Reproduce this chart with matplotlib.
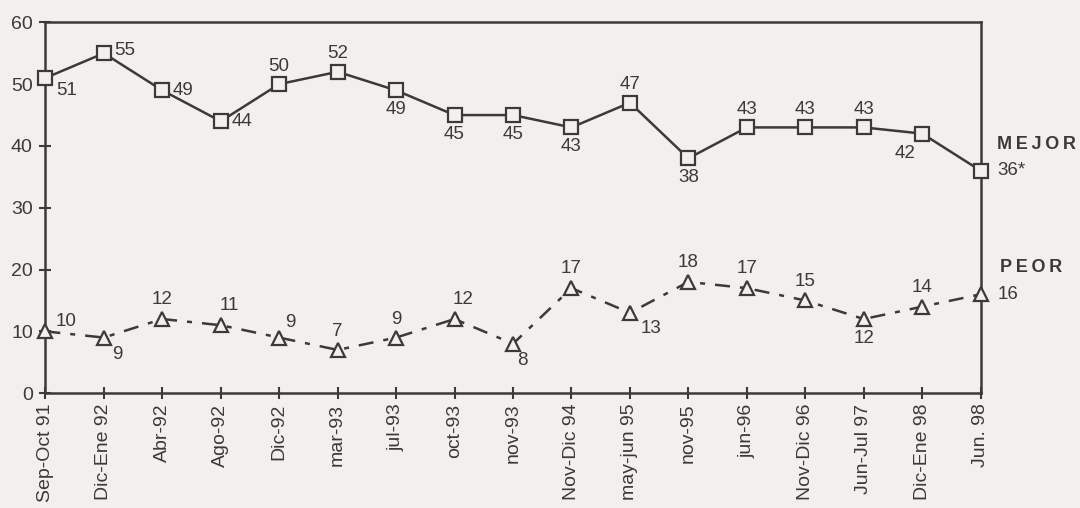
import matplotlib.pyplot as plt

plt.rcParams['font.family'] = ['Liberation Sans', 'DejaVu Sans']

periods = ["Sep-Oct 91", "Dic-Ene 92", "Abr-92", "Ago-92", "Dic-92", "mar-93",
           "jul-93", "oct-93", "nov-93", "Nov-Dic 94", "may-jun 95", "nov-95",
           "jun-96", "Nov-Dic 96", "Jun-Jul 97", "Dic-Ene 98", "Jun. 98"]
mejor = [51, 55, 49, 44, 50, 52, 49, 45, 45, 43, 47, 38, 43, 43, 43, 42, 36]
peor = [10, 9, 12, 11, 9, 7, 9, 12, 8, 17, 13, 18, 17, 15, 12, 14, 16]

# label placement (dx, dy in points) for each point
mejor_off = [(15, -9), (15, 2), (15, 0), (15, 0), (0, 13), (0, 13), (0, -14),
             (0, -14), (0, -14), (0, -14), (0, 13), (0, -14), (0, 13), (0, 13),
             (0, 13), (-12, -14), (0, 0)]
peor_off = [(15, 7), (10, -12), (0, 14), (6, 14), (8, 11), (0, 13), (0, 13),
            (6, 14), (7, -12), (0, 14), (15, -11), (0, 14), (0, 14), (0, 14),
            (0, -14), (0, 14), (0, 0)]

ink = '#3b3a36'
bg = '#f3efec'
fs = 13.5

fig = plt.figure(figsize=(10.8, 5.08), dpi=100, facecolor=bg)
ax = fig.add_axes([0.042, 0.226, 0.866, 0.73])
ax.set_facecolor(bg)

x = list(range(len(periods)))
ax.plot(x, mejor, color=ink, lw=1.8, marker='s', ms=9.5, mfc=bg, mec=ink, mew=1.6,
        clip_on=False, zorder=3)
ax.plot(x, peor, color=ink, lw=1.8, ls=(0, (6, 4, 2, 4)), marker='^', ms=10.5,
        mfc=bg, mec=ink, mew=1.6, clip_on=False, zorder=3)

for i in x[:-1]:
    ax.annotate(str(mejor[i]), (i, mejor[i]), xytext=mejor_off[i], textcoords='offset points',
                ha='center', va='center', fontsize=fs, color=ink)
    ax.annotate(str(peor[i]), (i, peor[i]), xytext=peor_off[i], textcoords='offset points',
                ha='center', va='center', fontsize=fs, color=ink)

last = x[-1]
sp = '\u2009'
ax.annotate(f"{mejor[-1]}*", (last, mejor[-1]), xytext=(12, 0), textcoords='offset points',
            ha='left', va='center', fontsize=fs, color=ink, annotation_clip=False)
ax.annotate(str(peor[-1]), (last, peor[-1]), xytext=(12, 0), textcoords='offset points',
            ha='left', va='center', fontsize=fs, color=ink, annotation_clip=False)
ax.annotate(sp.join("MEJOR"), (last, mejor[-1]), xytext=(12, 19), textcoords='offset points',
            ha='left', va='center', fontsize=13, fontweight='bold', color=ink,
            annotation_clip=False)
ax.annotate(sp.join("PEOR"), (last, peor[-1]), xytext=(14, 19), textcoords='offset points',
            ha='left', va='center', fontsize=13, fontweight='bold', color=ink,
            annotation_clip=False)

ax.set_xlim(0, last)
ax.set_ylim(0, 60)
ax.set_yticks(range(0, 61, 10))
ax.set_xticks(x)
ax.set_xticklabels(periods, rotation=90, fontsize=14, color=ink)
ax.tick_params(axis='both', direction='inout', length=8, width=1.5, color=ink,
               labelsize=14, labelcolor=ink)
ax.tick_params(axis='y', pad=5)
for s in ax.spines.values():
    s.set_color(ink)
    s.set_linewidth(1.8)

fig.savefig('out.png', dpi=100, facecolor=bg)
